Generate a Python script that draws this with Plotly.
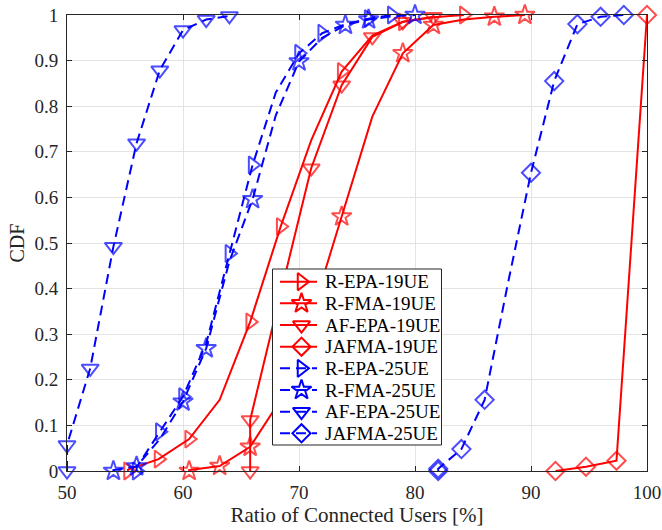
import plotly.graph_objects as go

# ---------------- data ----------------
# 19 UE curves (x in %)
x_repa19 = [55.26, 55.26, 57.89, 60.53, 63.16, 65.79, 68.42, 71.05, 73.68, 76.32, 78.95, 81.58, 84.21]
y_repa19 = [0.0, 0.003, 0.026, 0.070, 0.156, 0.327, 0.536, 0.725, 0.876, 0.955, 0.985, 0.995, 1.0]
m_repa19 = [1, 0, 1, 1, 0, 1, 1, 0, 1, 0, 1, 0, 1]

x_rfma19 = [60.53, 60.53, 63.16, 65.79, 68.42, 71.05, 73.68, 76.32, 78.95, 81.58, 84.21, 86.84, 89.47]
y_rfma19 = [0.0, 0.002, 0.011, 0.053, 0.156, 0.340, 0.558, 0.777, 0.916, 0.978, 0.990, 0.996, 1.0]
m_rfma19 = [1, 0, 1, 1, 0, 0, 1, 0, 1, 1, 0, 1, 1]

x_afepa19 = [65.79, 65.79, 68.42, 71.05, 73.68, 76.32, 78.95, 81.58]
y_afepa19 = [0.0, 0.112, 0.390, 0.664, 0.846, 0.952, 0.985, 0.996]
m_afepa19 = [1, 1, 0, 1, 1, 1, 1, 1]

x_jafma19 = [92.11, 94.74, 97.37, 100.0]
y_jafma19 = [0.0, 0.0095, 0.0226, 1.0]
m_jafma19 = [1, 1, 1, 1]

# 25 UE curves
x_repa25 = [56, 56, 58, 60, 62, 64, 66, 68, 70, 72, 74, 76, 78]
y_repa25 = [0.0, 0.008, 0.086, 0.163, 0.280, 0.477, 0.671, 0.830, 0.916, 0.960, 0.980, 0.992, 1.0]
m_repa25 = [1, 0, 1, 1, 0, 1, 1, 0, 1, 1, 0, 1, 1]

x_rfma25 = [54, 54, 56, 58, 60, 62, 64, 66, 68, 70, 72, 74, 76, 78, 80]
y_rfma25 = [0.0, 0.002, 0.010, 0.070, 0.152, 0.269, 0.460, 0.596, 0.780, 0.898, 0.950, 0.978, 0.990, 0.997, 1.0]
m_rfma25 = [1, 0, 1, 0, 1, 1, 0, 1, 0, 1, 0, 1, 1, 0, 1]

x_afepa25 = [50, 50, 52, 54, 56, 58, 60, 62, 64]
y_afepa25 = [0.0, 0.057, 0.225, 0.492, 0.719, 0.879, 0.967, 0.990, 0.998]
m_afepa25 = [1, 1, 1, 1, 1, 1, 1, 1, 1]

x_jafma25 = [82, 82, 84, 86, 88, 90, 92, 94, 96, 98]
y_jafma25 = [0.0, 0.005, 0.048, 0.156, 0.410, 0.654, 0.855, 0.980, 0.996, 1.0]
m_jafma25 = [1, 1, 1, 1, 0, 1, 1, 1, 1, 1]

names = ["R-EPA-19UE", "R-FMA-19UE", "AF-EPA-19UE", "JAFMA-19UE",
         "R-EPA-25UE", "R-FMA-25UE", "AF-EPA-25UE", "JAFMA-25UE"]

x_ticks = [50, 60, 70, 80, 90, 100]
y_ticks = [0, 0.1, 0.2, 0.3, 0.4, 0.5, 0.6, 0.7, 0.8, 0.9, 1]

# ---------------- styling ----------------
series = [
    (x_repa19, y_repa19, m_repa19),
    (x_rfma19, y_rfma19, m_rfma19),
    (x_afepa19, y_afepa19, m_afepa19),
    (x_jafma19, y_jafma19, m_jafma19),
    (x_repa25, y_repa25, m_repa25),
    (x_rfma25, y_rfma25, m_rfma25),
    (x_afepa25, y_afepa25, m_afepa25),
    (x_jafma25, y_jafma25, m_jafma25),
]
colors = ["#ff0000"] * 4 + ["#0000ff"] * 4
dashes = ["solid"] * 4 + ["10px,6px"] * 4
symbols = ["triangle-right-open", "star-open", "triangle-down-open", "diamond-open"] * 2
sizes = [15, 15, 15, 14] * 2

FONT = "Liberation Serif, Times New Roman, serif"
W, H = 662, 530
ML, MR, MT, MB = 67, 15, 15, 59
PX0, PX1 = ML, W - MR          # plot area in pixels
PY0, PY1 = MT, H - MB

fig = go.Figure()
for i, (xs, ys, ms) in enumerate(series):
    msz = [sizes[i] if m else 0 for m in ms]
    fig.add_trace(go.Scatter(
        x=xs, y=ys, mode="lines+markers", showlegend=False, cliponaxis=False,
        line=dict(color=colors[i], width=2, dash=dashes[i]),
        marker=dict(symbol=symbols[i], size=msz, color=colors[i],
                    line=dict(color=colors[i], width=2)),
    ))

# ---------------- legend (drawn on a pixel-space overlay axis) ----------------
LX0, LX1, LY0, LY1 = 272.5, 441.5, 269, 445
row0, row_gap = 281.7, 21.66
fig.add_trace(go.Scatter(
    x=[LX0, LX1, LX1, LX0, LX0], y=[LY0, LY0, LY1, LY1, LY0],
    xaxis="x2", yaxis="y2", mode="lines", fill="toself", fillcolor="white",
    line=dict(color="#262626", width=1), showlegend=False, hoverinfo="skip",
))
annotations = []
for i in range(8):
    ry = row0 + i * row_gap
    fig.add_trace(go.Scatter(
        x=[280, 317], y=[ry, ry], xaxis="x2", yaxis="y2", mode="lines",
        line=dict(color=colors[i], width=2, dash=dashes[i]),
        showlegend=False, hoverinfo="skip", cliponaxis=False,
    ))
    fig.add_trace(go.Scatter(
        x=[301.5], y=[ry], xaxis="x2", yaxis="y2", mode="markers",
        marker=dict(symbol=symbols[i], size=sizes[i], color=colors[i],
                    line=dict(color=colors[i], width=2)),
        showlegend=False, hoverinfo="skip", cliponaxis=False,
    ))
    annotations.append(dict(
        x=323, y=ry, xref="x2", yref="y2", text=names[i], showarrow=False,
        xanchor="left", yanchor="middle",
        font=dict(family=FONT, size=19, color="#000000"),
    ))

axis_common = dict(
    showgrid=True, gridcolor="#e3e3e3", gridwidth=1,
    zeroline=False, showline=True, linecolor="#262626", linewidth=1,
    mirror="ticks", ticks="inside", ticklen=5, tickcolor="#262626",
    tickfont=dict(family=FONT, size=19, color="#262626"),
    automargin=False,
)

fig.update_layout(
    width=W, height=H,
    margin=dict(l=ML, r=MR, t=MT, b=MB, autoexpand=False),
    paper_bgcolor="white", plot_bgcolor="white",
    font=dict(family=FONT, color="#262626"),
    showlegend=False,
    xaxis=dict(range=[50, 100], tickvals=x_ticks, ticklabelstandoff=4,
               title=dict(text="Ratio of Connected Users [%]", font=dict(family=FONT, size=21), standoff=2),
               **axis_common),
    yaxis=dict(range=[0, 1], tickvals=y_ticks, ticklabelstandoff=4,
               title=dict(text="CDF", font=dict(family=FONT, size=20), standoff=4),
               **axis_common),
    xaxis2=dict(overlaying="x", range=[PX0, PX1], visible=False, fixedrange=True),
    yaxis2=dict(overlaying="y", range=[PY1, PY0], visible=False, fixedrange=True),
    annotations=annotations,
)

fig.write_html("out.html")
